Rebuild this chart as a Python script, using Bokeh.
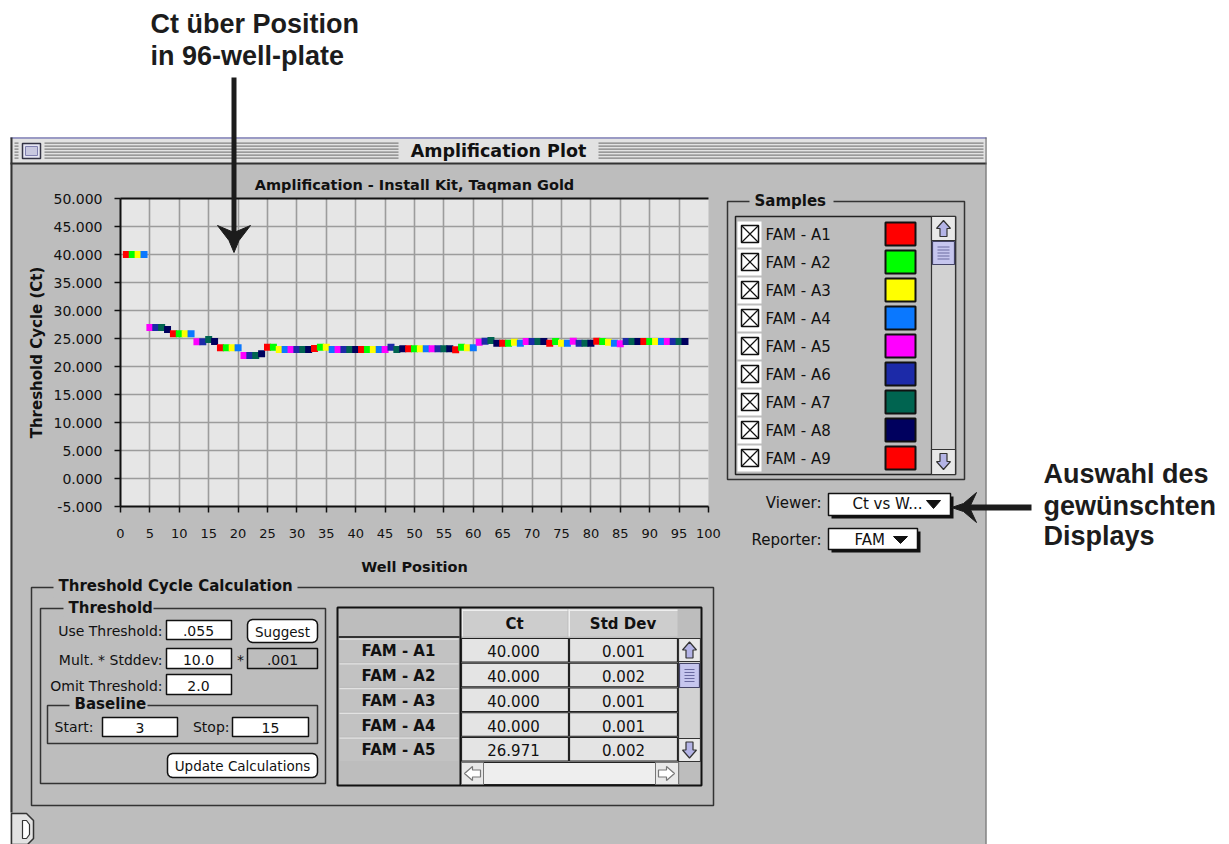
import math
from bokeh.plotting import figure
from bokeh.models import (Range1d, SingleIntervalTicker, PrintfTickFormatter,
                          ColumnDataSource, GridBox)
from bokeh.core.properties import value, field
from bokeh.embed import file_html
from bokeh.resources import INLINE

# ---------------- data ----------------
wells = list(range(1, 97))
ct_values = [
    40.0, 40.0, 40.0, 40.0, 26.97, 26.96, 26.96, 26.6,
    25.83, 25.83, 25.83, 25.83, 24.4, 24.4, 24.82, 24.45,
    23.33, 23.33, 23.33, 23.33, 21.96, 21.96, 21.96, 22.26,
    23.45, 23.45, 23.04, 23.04, 23.04, 23.04, 23.04, 23.04,
    23.2, 23.45, 23.45, 23.04, 23.04, 23.04, 23.04, 23.04,
    23.04, 23.04, 23.04, 23.04, 23.04, 23.45, 23.04, 23.15,
    23.15, 23.15, 23.15, 23.15, 23.15, 23.15, 23.15, 23.15,
    23.0, 23.45, 23.33, 23.33, 24.35, 24.53, 24.64, 24.17,
    24.17, 24.17, 24.35, 24.17, 24.47, 24.47, 24.47, 24.47,
    24.17, 24.47, 24.17, 24.17, 24.53, 24.17, 24.17, 24.17,
    24.53, 24.47, 24.35, 24.17, 24.05, 24.47, 24.47, 24.47,
    24.47, 24.47, 24.47, 24.47, 24.47, 24.47, 24.47, 24.47,
]
sample_colors = ["#ff0000", "#00ff00", "#ffff00", "#0a78ff",
                 "#ff00ff", "#1c2aa8", "#006450", "#00005e"]
sample_names = ["FAM - A1", "FAM - A2", "FAM - A3", "FAM - A4", "FAM - A5",
                "FAM - A6", "FAM - A7", "FAM - A8", "FAM - A9"]
table_rows = ["FAM - A1", "FAM - A2", "FAM - A3", "FAM - A4", "FAM - A5"]
table_ct = ["40.000", "40.000", "40.000", "40.000", "26.971"]
table_sd = ["0.001", "0.002", "0.001", "0.001", "0.002"]
table_cols = ["Ct", "Std Dev"]

W, H = 1229, 844
GRAY = "#bdbdbd"
INK = "#111111"
DARK = "#1c1c1c"
UI = "DejaVu Sans"
ANN = "Liberation Sans"
BASE_SHIFT = 0.35   # em correction so that given y is the alphabetic baseline


# ---------------- drawing layers (page pixel coordinates) ----------------
class Layer:
    def __init__(self):
        self.q = {k: [] for k in ("l", "r", "t", "b", "fc", "fa", "lc", "la", "lw")}
        self.pz = {k: [] for k in ("xs", "ys", "fc", "fa", "lc", "la", "lw")}
        self.tx = {k: [] for k in ("x", "y", "text", "font", "size", "style", "align", "color")}

    def rect(self, x0, y0, x1, y1, fill=None, line=None, lw=1.0):
        q = self.q
        q["l"].append(x0); q["r"].append(x1); q["t"].append(y0); q["b"].append(y1)
        q["fc"].append(fill or "white"); q["fa"].append(1.0 if fill else 0.0)
        q["lc"].append(line or "black"); q["la"].append(1.0 if line else 0.0)
        q["lw"].append(lw)

    def poly(self, pts, fill=None, line=None, lw=1.0):
        z = self.pz
        z["xs"].append([a for a, _ in pts]); z["ys"].append([b for _, b in pts])
        z["fc"].append(fill or "white"); z["fa"].append(1.0 if fill else 0.0)
        z["lc"].append(line or "black"); z["la"].append(1.0 if line else 0.0)
        z["lw"].append(lw)

    def txt(self, x, y, s, size=15, bold=False, align="left", font=UI, color=INK):
        t = self.tx
        t["x"].append(x); t["y"].append(y - BASE_SHIFT * size); t["text"].append(s)
        t["font"].append(font)
        t["size"].append(f"{size}px"); t["style"].append("bold" if bold else "normal")
        t["align"].append(align); t["color"].append(color)

    def draw(self, f):
        if self.q["l"]:
            f.quad(left="l", right="r", top="t", bottom="b", source=ColumnDataSource(self.q),
                   fill_color=field("fc"), fill_alpha=field("fa"),
                   line_color=field("lc"), line_alpha=field("la"), line_width=field("lw"))
        if self.pz["xs"]:
            f.patches(xs="xs", ys="ys", source=ColumnDataSource(self.pz),
                      fill_color=field("fc"), fill_alpha=field("fa"),
                      line_color=field("lc"), line_alpha=field("la"), line_width=field("lw"))
        if self.tx["x"]:
            f.text(x="x", y="y", text="text", source=ColumnDataSource(self.tx),
                   text_font=field("font"), text_font_size=field("size"),
                   text_font_style=field("style"), text_align=field("align"),
                   text_color=field("color"), text_baseline=value("alphabetic"))


def canvas_fig(transparent):
    f = figure(width=W, height=H, x_range=Range1d(0, W), y_range=Range1d(H, 0),
               output_backend="svg", toolbar_location=None, min_border=0,
               x_axis_type=None, y_axis_type=None, title=None, outline_line_color=None,
               frame_align=False)
    if transparent:
        f.background_fill_alpha = 0
        f.border_fill_alpha = 0
    else:
        f.background_fill_color = "white"
        f.border_fill_color = "white"
    return f


def rrect(L, x0, y0, x1, y1, r, fill, line, lw):
    pts = []
    for cx, cy, a0 in [(x1 - r, y0 + r, -90), (x1 - r, y1 - r, 0),
                       (x0 + r, y1 - r, 90), (x0 + r, y0 + r, 180)]:
        for k in range(4):
            a = math.radians(a0 + 30 * k)
            pts.append((cx + r * math.cos(a), cy + r * math.sin(a)))
    L.poly(pts, fill=fill, line=line, lw=lw)


def arrow_v(L, cx, y0, y1, up=True, fill="#b4b4e6"):
    h = y1 - y0
    if up:
        pts = [(cx, y0), (cx + 7, y0 + h * 0.5), (cx + 3.5, y0 + h * 0.5), (cx + 3.5, y1),
               (cx - 3.5, y1), (cx - 3.5, y0 + h * 0.5), (cx - 7, y0 + h * 0.5)]
    else:
        pts = [(cx, y1), (cx + 7, y1 - h * 0.5), (cx + 3.5, y1 - h * 0.5), (cx + 3.5, y0),
               (cx - 3.5, y0), (cx - 3.5, y1 - h * 0.5), (cx - 7, y1 - h * 0.5)]
    L.poly(pts, fill=fill, line="#333333", lw=1.2)


def arrow_h(L, cy, x0, x1, left=True, fill="white"):
    w = x1 - x0
    if left:
        pts = [(x0, cy), (x0 + w * 0.5, cy - 7), (x0 + w * 0.5, cy - 3.5), (x1, cy - 3.5),
               (x1, cy + 3.5), (x0 + w * 0.5, cy + 3.5), (x0 + w * 0.5, cy + 7)]
    else:
        pts = [(x1, cy), (x1 - w * 0.5, cy - 7), (x1 - w * 0.5, cy - 3.5), (x0, cy - 3.5),
               (x0, cy + 3.5), (x1 - w * 0.5, cy + 3.5), (x1 - w * 0.5, cy + 7)]
    L.poly(pts, fill=fill, line="#777777", lw=1.2)


def thumb(L, x0, y0, x1, y1):
    L.rect(x0, y0, x1, y1, fill="#c6c6ee", line="#444466", lw=1.2)
    cy = (y0 + y1) / 2
    for k in range(-2, 3):
        L.rect(x0 + 5, cy + 3 * k - 0.5, x1 - 5, cy + 3 * k + 0.5, fill="#6a6aa0")


bg = Layer()
ov = Layer()

# -------- window --------
bg.rect(10, 137, 986, 844, fill=GRAY)
bg.rect(10, 137, 986, 163, fill="#e2e2e2")
bg.rect(10, 136.5, 986, 138.5, fill="#9a9ac4")
for yy in (142, 145, 148, 151, 154, 157):
    bg.rect(14, yy, 983, yy + 1.2, fill="#808080")
bg.rect(398, 139, 598, 161, fill="#e2e2e2")
bg.txt(498, 157, "Amplification Plot", size=17.5, bold=True, align="center")
bg.rect(18, 140, 44, 161, fill="#e2e2e2")
bg.rect(22, 143, 40, 158, fill="#e6e6f4", line="#333344", lw=1.5)
bg.rect(25, 146, 37, 155, fill="#c8c8e0", line="#8080b0", lw=1)
bg.rect(10, 162, 986, 164, fill="#333333")
bg.rect(10, 137, 12, 812, fill="#333333")
bg.rect(985, 137, 986, 844, fill="#666666")
bg.poly([(11, 813), (26, 813), (33, 820), (33, 838), (27, 844), (11, 844)],
        fill="#e2e2e2", line="#333333", lw=1.5)
bg.poly([(22, 820), (26, 820), (29, 824), (29, 834), (26, 838), (22, 838)],
        fill="#ffffff", line="#333333", lw=1.2)

# chart title
bg.txt(414, 190, "Amplification - Install Kit, Taqman Gold", size=14.5, bold=True, align="center")

# -------- Samples group --------
bg.rect(727, 201, 964, 479, line="#333333", lw=1.5)
bg.rect(749, 192, 833, 208, fill=GRAY)
bg.txt(754, 206, "Samples", size=15, bold=True)
bg.rect(735, 216, 955, 474, fill=GRAY, line="#222222", lw=1.5)
for i, name in enumerate(sample_names):
    cy = 234 + 28 * i
    bg.rect(737, cy - 13, 761, cy + 13, fill="white")
    bg.rect(741, cy - 9, 758, cy + 8, line=INK, lw=1.5)
    bg.poly([(741, cy - 9), (758, cy + 8), (741, cy + 8), (758, cy - 9)], line=INK, lw=1.2)
    bg.txt(765, cy + 6, name, size=15)
    bg.rect(885, cy - 12, 915, cy + 11, fill=sample_colors[i % 8], line=INK, lw=2)
bg.rect(931, 216, 955, 474, fill="#d2d2d2", line="#333333", lw=1.2)
bg.rect(931, 216, 955, 240, fill="#e8e8e8", line="#333333", lw=1.2)
arrow_v(bg, 943, 220, 236, up=True)
thumb(bg, 932, 241, 954, 264)
bg.rect(931, 449, 955, 474, fill="#e8e8e8", line="#333333", lw=1.2)
arrow_v(bg, 943, 453, 469, up=False)

# -------- Viewer / Reporter --------
bg.txt(821, 508, "Viewer:", size=15, align="right")
bg.rect(831, 496, 953, 518, fill=INK)
bg.rect(828, 493, 950, 515, fill="white", line=INK, lw=1.5)
bg.txt(852, 509, "Ct vs W...", size=15)
bg.poly([(926, 500), (940, 500), (933, 508)], fill=INK, line=INK, lw=1)
bg.txt(821, 545, "Reporter:", size=15, align="right")
bg.rect(831, 531, 920, 552, fill=INK)
bg.rect(828, 528, 917, 549, fill="white", line=INK, lw=1.5)
bg.txt(854, 545, "FAM", size=15)
bg.poly([(893, 536), (907, 536), (900, 543)], fill=INK, line=INK, lw=1)

# -------- Threshold Cycle Calculation group --------
bg.rect(31, 587, 713, 805, line="#333333", lw=1.5)
bg.rect(53, 577, 297, 597, fill=GRAY)
bg.txt(58, 591, "Threshold Cycle Calculation", size=15, bold=True)
bg.rect(40, 608, 325, 783, line="#333333", lw=1.5)
bg.rect(63, 600, 153, 616, fill=GRAY)
bg.txt(68, 612.5, "Threshold", size=15, bold=True)

bg.txt(162, 635, "Use Threshold:", size=14, align="right")
bg.rect(166, 620, 231, 639, fill="white", line=INK, lw=1.5)
bg.txt(198, 635, ".055", size=14, align="center")
rrect(bg, 247, 619, 317, 642, 5, "white", INK, 1.5)
bg.txt(282, 636, "Suggest", size=13.5, align="center")

bg.txt(162, 664, "Mult. * Stddev:", size=14, align="right")
bg.rect(166, 648, 231, 668, fill="white", line=INK, lw=1.5)
bg.txt(198, 664, "10.0", size=14, align="center")
bg.txt(240, 664, "*", size=14, align="center")
bg.rect(247, 648, 317, 668, fill=GRAY, line=INK, lw=1.5)
bg.txt(282, 664, ".001", size=14, align="center")

bg.txt(162, 690, "Omit Threshold:", size=14, align="right")
bg.rect(166, 674, 231, 694, fill="white", line=INK, lw=1.5)
bg.txt(198, 690, "2.0", size=14, align="center")

bg.rect(47, 705, 317, 743, line="#333333", lw=1.5)
bg.rect(69, 697, 147, 713, fill=GRAY)
bg.txt(74, 709, "Baseline", size=15, bold=True)
bg.txt(54, 731, "Start:", size=14)
bg.rect(102, 717, 177, 736, fill="white", line=INK, lw=1.5)
bg.txt(139.5, 732, "3", size=14, align="center")
bg.txt(229, 731, "Stop:", size=14, align="right")
bg.rect(232, 717, 308, 736, fill="white", line=INK, lw=1.5)
bg.txt(270, 732, "15", size=14, align="center")

rrect(bg, 167, 753, 317, 777, 5, "white", INK, 1.5)
bg.txt(242, 770.5, "Update Calculations", size=13.5, align="center")

# -------- results table --------
bg.rect(337, 607, 701, 785, fill=GRAY, line=INK, lw=2)
bg.rect(338, 635.5, 459, 637.5, fill="#333333")
for name, xa, xb in zip(table_cols, [461, 568], [567, 677]):
    bg.rect(xa, 609, xb, 636, fill="#cdcdcd")
    bg.rect(xa, 609, xb, 610.5, fill="#eeeeee")
    bg.rect(xa, 609, xa + 1.5, 636, fill="#eeeeee")
    bg.txt((xa + xb) / 2, 629, name, size=15, bold=True, align="center")
bg.rect(459, 607, 461, 785, fill=INK)
for r, (name, cv, sv) in enumerate(zip(table_rows, table_ct, table_sd)):
    top = 638 + 24.75 * r
    bot = top + 23.5
    bg.rect(339, top, 458, bot, fill="#c2c2c2")
    bg.rect(339, top, 458, top + 1.2, fill="#e2e2e2")
    bg.txt(398, top + 18, name, size=15, bold=True, align="center")
    bg.rect(461, top, 568, bot, fill="#e4e4e4", line="#222222", lw=1.2)
    bg.txt(513, top + 18, cv, size=15, align="center")
    bg.rect(569, top, 677, bot, fill="#e4e4e4", line="#222222", lw=1.2)
    bg.txt(623, top + 18, sv, size=15, align="center")
bg.rect(678, 638, 700, 761, fill="#d2d2d2", line="#333333", lw=1.2)
bg.rect(678, 638, 700, 661, fill="#e8e8e8", line="#333333", lw=1.2)
arrow_v(bg, 689, 641.5, 657.5, up=True)
thumb(bg, 679, 663, 699, 687)
bg.rect(678, 738, 700, 761, fill="#e8e8e8", line="#333333", lw=1.2)
arrow_v(bg, 689, 741.5, 757.5, up=False)
bg.rect(461, 762, 678, 784, fill="#eeeeee", line="#222222", lw=1.2)
bg.rect(461, 762, 483, 784, fill="#e8e8e8", line="#777777", lw=1)
arrow_h(bg, 773, 464, 480, left=True)
bg.rect(655, 762, 678, 784, fill="#e8e8e8", line="#777777", lw=1)
arrow_h(bg, 773, 658, 674, left=False)

# -------- overlay: frame top edge, annotation arrows and texts --------
ov.rect(120, 197, 708, 199, fill=INK)
ov.rect(231, 77, 236, 233, fill=DARK)
ov.poly([(217, 225), (233.5, 232), (250, 225), (238.5, 240), (233.5, 252), (228.5, 240)],
        fill=DARK, line=DARK, lw=1)
ov.rect(966, 504, 1031, 510, fill=DARK)
ov.poly([(951, 507), (963, 503), (976, 492), (969, 507), (976, 522), (963, 511)],
        fill=DARK, line=DARK, lw=1)
ov.txt(150, 33, "Ct über Position", size=27, bold=True, font=ANN, color=DARK)
ov.txt(150, 65, "in 96-well-plate", size=27, bold=True, font=ANN, color=DARK)
ov.txt(1043, 483, "Auswahl des", size=27, bold=True, font=ANN, color=DARK)
ov.txt(1043, 515, "gewünschten", size=27, bold=True, font=ANN, color=DARK)
ov.txt(1043, 545, "Displays", size=27, bold=True, font=ANN, color=DARK)

# ---------------- the amplification chart ----------------
src = ColumnDataSource(dict(well=wells, ct=ct_values,
                            color=[sample_colors[(w - 1) % 8] for w in wells]))
p = figure(width=W, height=H, x_range=Range1d(0, 100), y_range=Range1d(-5, 50),
           output_backend="svg", toolbar_location=None, title=None,
           min_border_left=120, min_border_right=W - 708, min_border_top=198,
           min_border_bottom=H - 506, frame_align=False,
           background_fill_color="#e6e6e6", outline_line_color=None)
p.border_fill_alpha = 0

xt = SingleIntervalTicker(interval=5)
yt = SingleIntervalTicker(interval=5)
p.xaxis.ticker = xt
p.yaxis.ticker = yt
p.xgrid.ticker = xt
p.ygrid.ticker = yt
p.grid.grid_line_color = "#9c9c9c"
p.grid.grid_line_width = 1.6
p.yaxis.formatter = PrintfTickFormatter(format="%.3f")
for ax in (p.xaxis[0], p.yaxis[0]):
    ax.axis_line_color = INK
    ax.axis_line_width = 2
    ax.major_tick_line_color = INK
    ax.major_tick_line_width = 1.5
    ax.major_tick_out = 6
    ax.major_tick_in = 0
    ax.minor_tick_line_color = None
    ax.major_label_text_font = UI
    ax.major_label_text_color = INK
    ax.axis_label_text_font = UI
    ax.axis_label_text_font_style = "bold"
    ax.axis_label_text_color = INK
p.yaxis.axis_label_text_font_size = "15px"
p.xaxis.axis_label_text_font_size = "14.5px"
p.yaxis.major_label_text_font_size = "14px"
p.xaxis.major_label_text_font_size = "13px"
p.yaxis.major_label_standoff = 12
p.xaxis.major_label_standoff = 16
p.yaxis.axis_label_standoff = 5
p.xaxis.axis_label_standoff = 18
p.yaxis.axis_label = "Threshold Cycle (Ct)"
p.xaxis.axis_label = "Well Position"

p.scatter("well", "ct", source=src, marker="square", size=7,
          fill_color="color", line_color=None)

bgf = canvas_fig(False)
bg.draw(bgf)
ovf = canvas_fig(True)
ov.draw(ovf)

layout = GridBox(children=[(bgf, 0, 0), (p, 0, 0), (ovf, 0, 0)])

with open("out.html", "w", encoding="utf-8") as f:
    f.write(file_html(layout, INLINE))
